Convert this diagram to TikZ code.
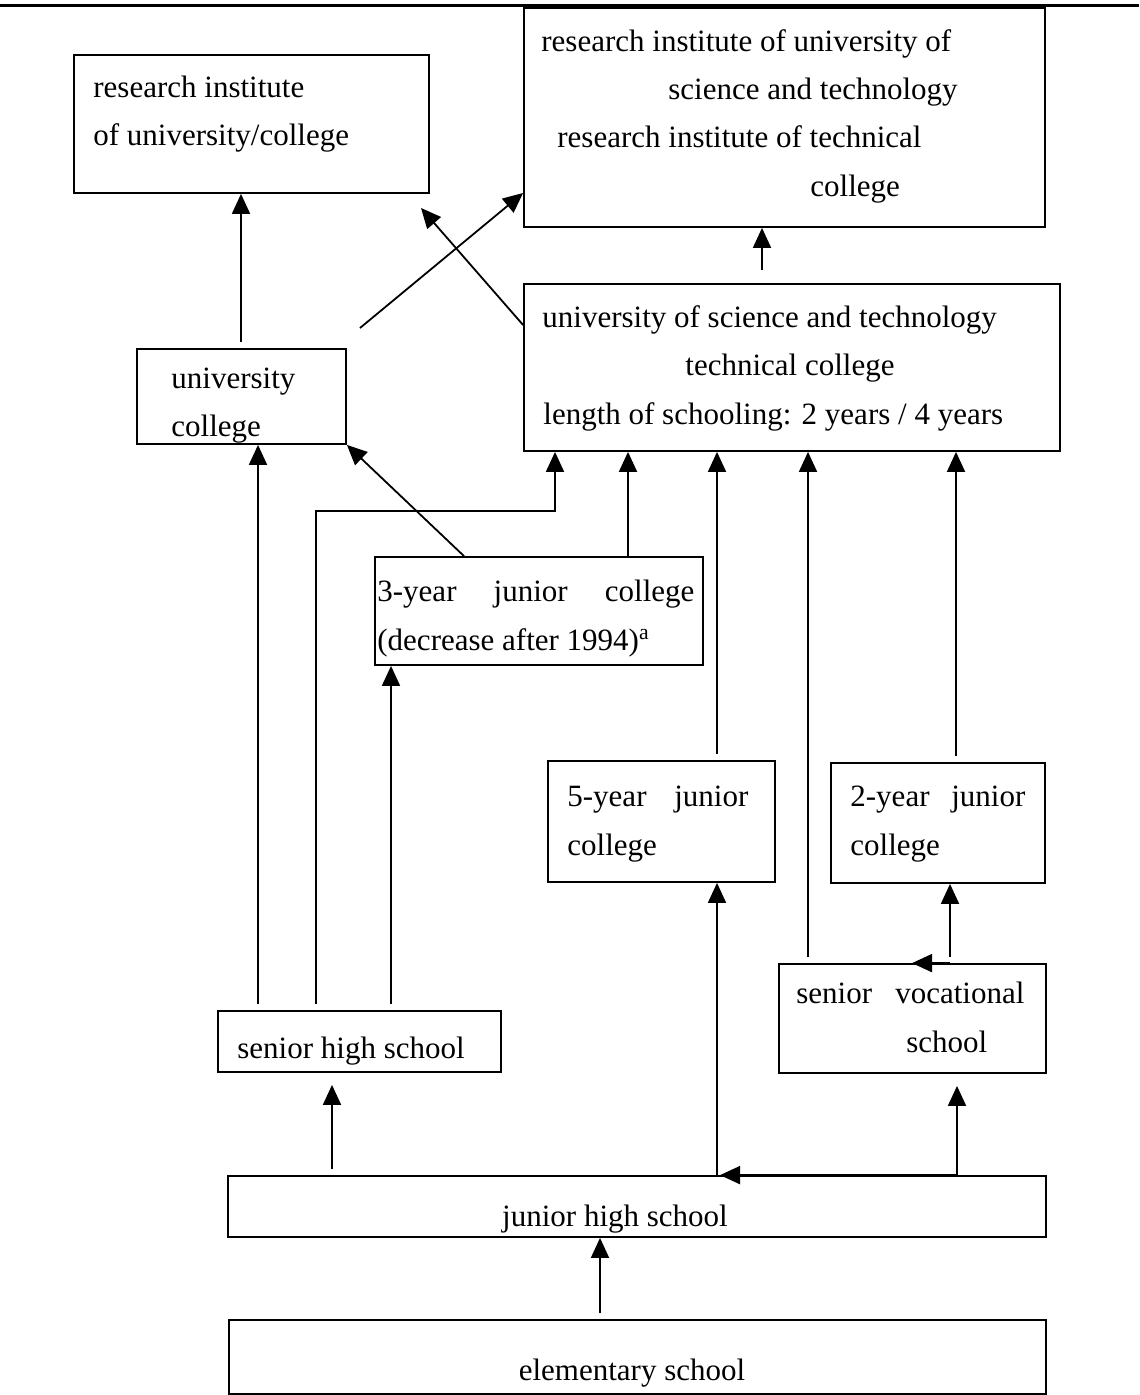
\documentclass[tikz,border=0pt]{standalone}
\usepackage{fontspec}
\setmainfont{Liberation Serif}
\usetikzlibrary{arrows.meta, positioning, fit}

\begin{document}
\begin{tikzpicture}[x=0.5pt, y=-0.5pt,
    schoolbox/.style={draw, line width=0.9pt, inner sep=0pt},
    boxtext/.style={anchor=base west, inner sep=0pt, font=\fontsize{15.5}{24}\selectfont},
    uparrow/.style={-{Triangle[length=10pt,width=9pt]}, line width=0.9pt, shorten <=3pt},
    sidearrow/.style={-{Triangle[length=10pt,width=9pt]}, line width=0.9pt}]
  \useasboundingbox (0,0) rectangle (1139,1395);
  % rule at the top
  \draw[line width=1.5pt] (0,6) -- (1139,6);

  % boxes
  \node[schoolbox, fit={(74,55) (429,193)}] (riuc) {};
  \node[schoolbox, fit={(524,8) (1045,227)}] (ristc) {};
  \node[schoolbox, fit={(524,284) (1060,451)}] (ust) {};
  \node[schoolbox, fit={(137,349) (346,444)}] (uni) {};
  \node[schoolbox, fit={(375,557) (703,665)}] (jc3) {};
  \node[schoolbox, fit={(548,761) (775,882)}] (jc5) {};
  \node[schoolbox, fit={(831,763) (1045,883)}] (jc2) {};
  \node[schoolbox, fit={(779,964) (1046,1073)}] (svs) {};
  \node[schoolbox, fit={(218,1011) (501,1072)}] (shs) {};
  \node[schoolbox, fit={(228,1176) (1046,1237)}] (jhs) {};
  \node[schoolbox, fit={(229,1320) (1046,1394)}] (elem) {};

  % texts
  \node[boxtext] (riuc-a) at (93,98) {research institute};
  \node[boxtext] (riuc-b) at (93,146) {of university/college};
  \node[boxtext] (ristc-a) at (541,52) {research institute of university of};
  \node[boxtext] (ristc-b) at (668,100) {science and technology};
  \node[boxtext] (ristc-c) at (557,148) {research institute of technical};
  \node[boxtext] (ristc-d) at (810,197) {college};
  \node[boxtext] (ust-a) at (542,328) {university of science and technology};
  \node[boxtext] (ust-b) at (685,376) {technical college};
  \node[boxtext] (ust-c) at (543,424) {length of schooling: 2 years / 4 years};
  \node[boxtext] (uni-a) at (171,389) {university};
  \node[boxtext] (uni-b) at (171,437) {college};
  \node[boxtext] (jc3-a) at (377,601) {\hbox to 158.5pt{3-year\hfill junior\hfill college}};
  \node[boxtext] (jc3-b) at (377,650) {(decrease after 1994)\textsuperscript{a}};
  \node[boxtext] (jc5-a) at (567,806) {\hbox to 90.5pt{5-year\hfill junior}};
  \node[boxtext] (jc5-b) at (567,855) {college};
  \node[boxtext] (jc2-a) at (850,806) {\hbox to 87.5pt{2-year\hfill junior}};
  \node[boxtext] (jc2-b) at (850,855) {college};
  \node[boxtext] (svs-a) at (796,1003) {\hbox to 114pt{senior\hfill vocational}};
  \node[boxtext] (svs-b) at (906,1052) {school};
  \node[boxtext] (shs-a) at (237,1058) {senior high school};
  \node[boxtext, anchor=base] (jhs-a) at (615,1226) {junior high school};
  \node[boxtext, anchor=base] (elem-a) at (632,1380) {elementary school};

  % free ends
  \coordinate (crossfoot) at (360,328);
  \coordinate (crosstip) at (421,208);
  \coordinate (ustfoot) at (762,270);

  % connectors
  \draw[uparrow] (uni.north -| 241,0) -- (riuc.south -| 241,0);
  \draw[sidearrow] (crossfoot) -- (ristc.west |- 0,193);
  \draw[sidearrow] (ust.west |- 0,325) -- (crosstip);
  \draw[sidearrow] (ustfoot) -- (ustfoot |- ristc.south);
  \draw[uparrow] (shs.north -| 258,0) -- (uni.south -| 258,0);
  \draw[uparrow] (shs.north -| 316,0) -- (316,511) -| (ust.south -| 555,0);
  \draw[uparrow] (shs.north -| 391,0) -- (jc3.south -| 391,0);
  \draw[sidearrow] (jc3.north -| 464,0) -- (uni.south east);
  \draw[sidearrow] (jc3.north -| 628,0) -- (ust.south -| 628,0);
  \draw[uparrow] (jc5.north -| 717,0) -- (ust.south -| 717,0);
  \draw[uparrow] (svs.north -| 808,0) -- (ust.south -| 808,0);
  \draw[uparrow] (jc2.north -| 956,0) -- (ust.south -| 956,0);
  \draw[uparrow] (svs.north -| 950,0) -- (jc2.south -| 950,0);
  \draw[sidearrow] (svs.north -| 950,0) -- (svs.north -| 912,0);
  \draw[uparrow, shorten >=6pt] (jhs.north -| 332,0) -- (shs.south -| 332,0);
  \draw[sidearrow] (jhs.north -| 717,0) -- (jc5.south -| 717,0);
  \draw[sidearrow] (jhs.north -| 957,0) -- (jhs.north -| 720,0);
  \draw[sidearrow, shorten >=6pt] (jhs.north -| 957,0) -- (svs.south -| 957,0);
  \draw[uparrow] (elem.north -| 600,0) -- (jhs.south -| 600,0);
\end{tikzpicture}
\end{document}
